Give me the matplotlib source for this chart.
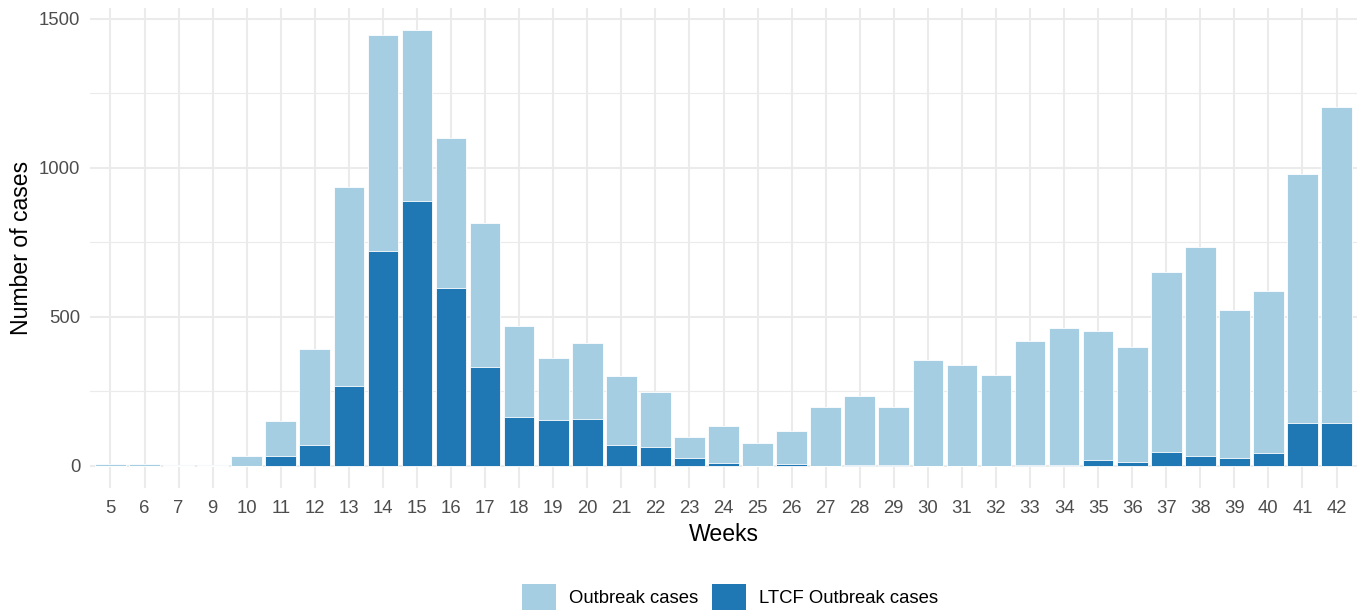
import matplotlib
matplotlib.use("Agg")
import matplotlib.pyplot as plt
from matplotlib.patches import Patch
from matplotlib.ticker import MultipleLocator

# ---------------- DATA ---------------- #

weeks = ["5", "6", "7", "9", "10", "11", "12", "13", "14", "15", "16", "17",
         "18", "19", "20", "21", "22", "23", "24", "25", "26", "27", "28",
         "29", "30", "31", "32", "33", "34", "35", "36", "37", "38", "39",
         "40", "41", "42"]

outbreak_cases = [6, 6, 2, 2, 33, 150, 393, 934, 1444, 1463, 1100, 814,
                  468, 362, 412, 300, 248, 97, 134, 76, 115, 197, 235,
                  198, 356, 339, 304, 418, 463, 451, 398, 649, 734, 521,
                  586, 978, 1205]

ltcf_cases = [0, 0, 0, 0, 0, 33, 68, 266, 719, 889, 595, 331,
              162, 152, 157, 69, 62, 26, 9, 0, 6, 0, 2,
              2, 0, 0, 0, 2, 4, 20, 12, 47, 34, 26,
              43, 142, 142]

LIGHT = "#a6cee3"
DARK = "#1f78b4"
GRID = "#ebebeb"

plt.rcParams["font.family"] = ["Liberation Sans", "DejaVu Sans"]

# ---------------- FIGURE ---------------- #

fig = plt.figure(figsize=(13.66, 6.11), dpi=100)
ax = fig.add_axes([0.0659, 0.2021, 0.9275, 0.7848])

x = list(range(len(weeks)))

ax.bar(x, outbreak_cases, width=0.9, color=LIGHT,
       edgecolor="white", linewidth=0.6, zorder=2)
ax.bar(x, ltcf_cases, width=0.9, color=DARK,
       edgecolor="white", linewidth=0.6, zorder=3)

# axes limits like ggplot expansion
top = max(outbreak_cases)
ax.set_ylim(-0.05 * top, 1.05 * top)
ax.set_xlim(-0.6, len(weeks) - 0.4)

ax.set_xticks(x)
ax.set_xticklabels(weeks)
ax.yaxis.set_major_locator(MultipleLocator(500))
ax.yaxis.set_minor_locator(MultipleLocator(250))

ax.grid(which="major", color=GRID, linewidth=1.5, zorder=0)
ax.grid(which="minor", axis="y", color=GRID, linewidth=0.8, zorder=0)
ax.set_axisbelow(True)

for spine in ax.spines.values():
    spine.set_visible(False)

ax.tick_params(axis="both", which="both", length=0, labelsize=13.3,
               labelcolor="#4d4d4d")
ax.tick_params(axis="x", pad=9)
ax.tick_params(axis="y", pad=7)

ax.set_xlabel("Weeks", fontsize=16.6, labelpad=4)
ax.set_ylabel("Number of cases", fontsize=16.6, labelpad=4.5)

# ---------------- LEGEND ---------------- #

handles = [
    Patch(facecolor=LIGHT, edgecolor="none", label="Outbreak cases"),
    Patch(facecolor=DARK, edgecolor="none", label="LTCF Outbreak cases"),
]

fig.legend(handles=handles, loc="center", bbox_to_anchor=(0.5344, 0.0229),
           ncol=2, frameon=False, fontsize=13.3, handlelength=1.83,
           handleheight=1.83, handletextpad=0.7, columnspacing=0.75,
           borderpad=0)

fig.savefig("out.png", dpi=100)
plt.close(fig)
